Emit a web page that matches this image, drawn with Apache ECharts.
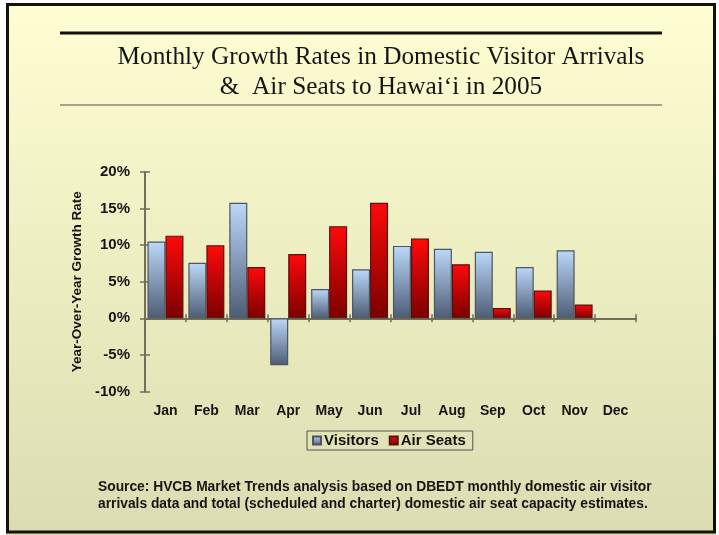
<!DOCTYPE html>
<html>
<head>
<meta charset="utf-8">
<script src="https://cdn.jsdelivr.net/npm/echarts@6/dist/echarts.min.js"></script>
<style>
html,body{margin:0;padding:0;background:#fff;}
#chart{width:719px;height:535px;}
</style>
</head>
<body>
<div id="chart"></div>
<script>
const months = ['Jan','Feb','Mar','Apr','May','Jun','Jul','Aug','Sep','Oct','Nov','Dec'];
const visitors = [10.5, 7.6, 15.8, -6.4, 4.0, 6.7, 9.9, 9.5, 9.1, 7.0, 9.3, null];
const airSeats = [11.3, 10.0, 7.0, 8.8, 12.6, 15.8, 10.9, 7.4, 1.4, 3.8, 1.9, null];
const yTicks = { min: -10, max: 20, interval: 5 };
const titleText = 'Monthly Growth Rates in Domestic Visitor Arrivals\n&  Air Seats to Hawai\u2018i in 2005';
const sourceText = 'Source: HVCB Market Trends analysis based on DBEDT monthly domestic air visitor\narrivals data and total (scheduled and charter) domestic air seat capacity estimates.';

const axisColor = '#6f6f5c';
const chart = echarts.init(document.getElementById('chart'), null, {renderer: 'canvas'});

const visGrad = new echarts.graphic.LinearGradient(0, 0, 0, 1, [
  {offset: 0, color: '#bcd8fa'},
  {offset: 1, color: '#4d5c74'}
]);
const airGrad = new echarts.graphic.LinearGradient(0, 0, 0, 1, [
  {offset: 0, color: '#ff0a0a'},
  {offset: 1, color: '#7a0000'}
]);

chart.setOption({
  backgroundColor: new echarts.graphic.LinearGradient(0, 0, 0, 1, [
    {offset: 0, color: '#fefed2'},
    {offset: 1, color: '#dcdcb2'}
  ]),
  animation: false,
  title: {
    text: titleText,
    left: 376,
    top: 37,
    textAlign: 'center',
    textStyle: {
      fontFamily: 'Liberation Serif',
      fontSize: 25.3,
      fontWeight: 'normal',
      color: '#151515',
      lineHeight: 30
    }
  },
  legend: {
    data: ['Visitors', 'Air Seats'],
    left: 307,
    top: 431,
    itemWidth: 8,
    itemHeight: 8,
    itemGap: 10,
    padding: [2, 7, 2, 5],
    borderColor: '#555',
    borderWidth: 1,
    icon: 'rect',
    textStyle: {
      fontFamily: 'Liberation Sans',
      fontWeight: 'bold',
      fontSize: 15,
      color: '#111',
      padding: [0, 0, 0, -2]
    }
  },
  grid: {left: 145, right: 83, top: 172, bottom: 143.5},
  xAxis: [
    {
      type: 'category',
      data: months,
      axisLine: {onZero: true, lineStyle: {color: axisColor, width: 2}},
      axisTick: {show: true, length: 4, lineStyle: {color: axisColor, width: 1.5}},
      axisLabel: {show: false}
    },
    {
      type: 'category',
      data: months,
      position: 'bottom',
      axisLine: {show: false, onZero: false},
      axisTick: {show: false},
      axisLabel: {
        margin: 13,
        fontFamily: 'Liberation Sans',
        fontWeight: 'bold',
        fontSize: 14,
        color: '#151515'
      }
    },
    {
      type: 'category',
      data: months,
      position: 'bottom',
      axisLine: {show: false, onZero: true},
      axisTick: {show: true, inside: true, length: 4, lineStyle: {color: axisColor, width: 1.5}},
      axisLabel: {show: false}
    }
  ],
  yAxis: [
    {
      type: 'value',
      position: 'left',
      min: yTicks.min,
      max: yTicks.max,
      interval: yTicks.interval,
      name: 'Year-Over-Year Growth Rate',
      nameLocation: 'middle',
      nameGap: 59,
      nameTextStyle: {
        fontFamily: 'Liberation Sans',
        fontWeight: 'bold',
        fontSize: 13.5,
        color: '#151515'
      },
      splitLine: {show: false},
      axisLine: {show: true, lineStyle: {color: axisColor, width: 2}},
      axisTick: {show: true, length: 5, lineStyle: {color: axisColor, width: 1.5}},
      axisLabel: {
        margin: 15,
        formatter: '{value}%',
        fontFamily: 'Liberation Sans',
        fontWeight: 'bold',
        fontSize: 15,
        color: '#151515'
      }
    },
    {
      type: 'value',
      position: 'left',
      min: yTicks.min,
      max: yTicks.max,
      interval: yTicks.interval,
      splitLine: {show: false},
      axisLine: {show: false},
      axisTick: {show: true, inside: true, length: 5, lineStyle: {color: axisColor, width: 1.5}},
      axisLabel: {show: false}
    }
  ],
  series: [
    {
      name: 'Visitors',
      type: 'bar',
      data: visitors,
      barGap: '0%',
      barCategoryGap: '12%',
      itemStyle: {color: visGrad, borderColor: '#4d5560', borderWidth: 1.2}
    },
    {
      name: 'Air Seats',
      type: 'bar',
      data: airSeats,
      barGap: '0%',
      barCategoryGap: '12%',
      itemStyle: {color: airGrad, borderColor: '#5a1010', borderWidth: 1.2}
    }
  ],
  graphic: [
    {type: 'rect', shape: {x: 0, y: 0, width: 719, height: 3}, style: {fill: '#fff'}, silent: true},
    {type: 'rect', shape: {x: 0, y: 0, width: 6, height: 535}, style: {fill: '#fff'}, silent: true},
    {type: 'rect', shape: {x: 716, y: 0, width: 3, height: 535}, style: {fill: '#fff'}, silent: true},
    {type: 'rect', shape: {x: 7.5, y: 4.5, width: 707, height: 527.5}, style: {fill: null, stroke: '#111', lineWidth: 3}, silent: true},
    {type: 'line', shape: {x1: 60, y1: 33, x2: 662, y2: 33}, style: {stroke: '#111', lineWidth: 3}, silent: true},
    {type: 'line', shape: {x1: 60, y1: 105, x2: 662, y2: 105}, style: {stroke: '#a3a386', lineWidth: 2}, silent: true},
    {
      type: 'text',
      left: 98,
      top: 478,
      style: {
        text: sourceText,
        font: 'bold 13.8px "Liberation Sans"',
        fill: '#151515',
        lineHeight: 17.5
      },
      silent: true
    }
  ]
});
</script>
</body>
</html>
